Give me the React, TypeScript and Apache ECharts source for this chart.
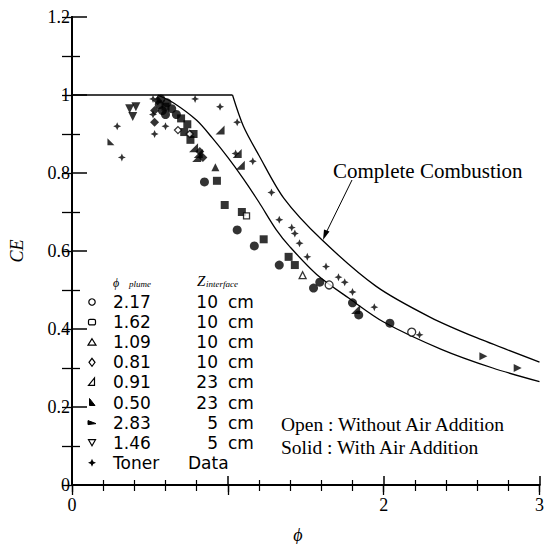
import React, { useEffect, useRef } from "react";
import * as echarts from "echarts";

// ---- data ----
const upperFlat = [[0, 1.0], [1.03, 1.0]];
const upperCurve = [[1.03, 1.0], [1.1, 0.92], [1.2, 0.845], [1.36, 0.735], [1.6, 0.63], [1.95, 0.51], [2.3, 0.43], [2.6, 0.377], [3.0, 0.315]];
const lowerCurve = [[0.55, 1.0], [0.65, 0.98], [0.8, 0.935], [0.9, 0.89], [1.0, 0.84], [1.1, 0.785], [1.2, 0.725], [1.31, 0.655], [1.4, 0.61], [1.57, 0.54], [1.78, 0.478], [2.0, 0.418], [2.37, 0.348], [2.7, 0.3], [3.0, 0.265]];

const tonerData = [[0.79, 0.99], [0.95, 0.97], [1.06, 0.93], [1.16, 0.83], [1.05, 0.85], [1.28, 0.75], [0.29, 0.92], [0.53, 0.9], [0.6, 0.92], [0.32, 0.84], [0.52, 0.95], [0.52, 0.99], [1.33, 0.68], [1.41, 0.66], [1.43, 0.645], [1.46, 0.62], [1.51, 0.585], [1.63, 0.56], [1.71, 0.533], [1.75, 0.52], [1.8, 0.495], [1.94, 0.456], [2.23, 0.385]];

const solidCircle217 = [[0.85, 0.777], [1.06, 0.654], [1.17, 0.613], [1.33, 0.564], [1.55, 0.505], [1.59, 0.52], [1.8, 0.467], [1.84, 0.436], [2.04, 0.415], [0.57, 0.99], [0.61, 0.98], [0.64, 0.965], [0.67, 0.95], [0.58, 0.96], [0.6, 0.95], [0.56, 0.975]];
const openCircle217 = [[1.65, 0.513], [2.18, 0.392]];
const solidSquare162 = [[0.93, 0.78], [0.98, 0.718], [1.09, 0.7], [1.23, 0.63], [1.39, 0.585], [1.43, 0.564], [0.6, 0.97], [0.7, 0.94], [0.74, 0.925], [0.78, 0.9], [0.72, 0.905], [0.76, 0.885]];
const openSquare162 = [[1.12, 0.69]];
const solidTri109 = [[0.92, 0.815]];
const openTri109 = [[1.48, 0.538]];
const solidDiamond081 = [[0.53, 0.96], [0.53, 0.93], [0.55, 0.985], [0.82, 0.855], [0.84, 0.84]];
const openDiamond081 = [[0.68, 0.91], [0.755, 0.9]];
const solidWedge091 = [[0.95, 0.91], [0.8, 0.84], [1.06, 0.85], [1.08, 0.82], [1.82, 0.45], [0.78, 0.865], [0.81, 0.85]];
const solidSmallTri050 = [[0.25, 0.88]];
const solidRight283 = [[2.64, 0.33], [2.86, 0.3]];
const solidDown146 = [[0.37, 0.965], [0.41, 0.97], [0.39, 0.945]];

const legendRows = [
  { phi: "2.17", z: "10" },
  { phi: "1.62", z: "10" },
  { phi: "1.09", z: "10" },
  { phi: "0.81", z: "10" },
  { phi: "0.91", z: "23" },
  { phi: "0.50", z: "23" },
  { phi: "2.83", z: "5" },
  { phi: "1.46", z: "5" },
];

const xTickLabels: Record<number, string> = { 0: "0", 1: "", 2: "2", 3: "3" };

// ---- symbols ----
const STAR = "path://M5,0 L6.5,3.5 L10,5 L6.5,6.5 L5,10 L3.5,6.5 L0,5 L3.5,3.5 Z";
const WEDGE = "path://M9,0 L9,10 L0,10 Z";
const SMALLTRI = "path://M0,0 L8,10 L0,10 Z";
const RIGHTTRI = "path://M0,0 L10,5 L0,10 Z";
const DOWNTRI = "path://M0,0 L10,0 L5,9 Z";

const serif = '"Liberation Serif", "DejaVu Serif", serif';
const sans = '"DejaVu Sans", sans-serif';

function solid(name: string, data: number[][], symbol: string, size: number, z = 3) {
  return { type: "scatter", name, data, symbol, symbolSize: size, itemStyle: { color: "#000" }, z };
}
function open(name: string, data: number[][], symbol: string, size: number) {
  return { type: "scatter", name, data, symbol, symbolSize: size, itemStyle: { color: "#fff", borderColor: "#000", borderWidth: 1.3 }, z: 4 };
}

function buildLegendGraphics() {
  const g: any[] = [];
  const y0 = 302;
  const dy = 20.1;
  const sx = 92;
  const stroke = { fill: "#fff", stroke: "#000", lineWidth: 1.2 };
  const symbols = [
    (y: number) => ({ type: "circle", shape: { cx: sx, cy: y, r: 3.2 }, style: stroke }),
    (y: number) => ({ type: "rect", shape: { x: sx - 3.5, y: y - 2.8, width: 7, height: 5.6, r: 1.5 }, style: stroke }),
    (y: number) => ({ type: "polygon", shape: { points: [[sx, y - 3.5], [sx + 4, y + 3], [sx - 4, y + 3]] }, style: stroke }),
    (y: number) => ({ type: "polygon", shape: { points: [[sx, y - 4], [sx + 3, y], [sx, y + 4], [sx - 3, y]] }, style: stroke }),
    (y: number) => ({ type: "polygon", shape: { points: [[sx + 2.5, y - 4.5], [sx + 2.5, y + 3], [sx - 3.5, y + 3]] }, style: stroke }),
    (y: number) => ({ type: "polygon", shape: { points: [[sx - 2.5, y - 4], [sx + 3, y + 3], [sx - 2.5, y + 3]] }, style: { fill: "#000", stroke: "#000", lineWidth: 1 } }),
    (y: number) => ({ type: "polygon", shape: { points: [[sx - 4, y - 2], [sx + 4, y + 1], [sx - 4, y + 2]] }, style: { fill: "#000", stroke: "#000", lineWidth: 1 } }),
    (y: number) => ({ type: "polygon", shape: { points: [[sx - 3.5, y - 3], [sx + 3.5, y - 3], [sx, y + 3]] }, style: stroke }),
  ];
  legendRows.forEach((row, i) => {
    const y = y0 + i * dy;
    g.push(symbols[i](y));
    g.push({ type: "text", x: 113, y, style: { text: row.phi, font: `17px ${sans}`, fill: "#000", verticalAlign: "middle", align: "left" } });
    g.push({ type: "text", x: 218, y, style: { text: row.z, font: `17px ${sans}`, fill: "#000", verticalAlign: "middle", align: "right" } });
    g.push({ type: "text", x: 228, y, style: { text: "cm", font: `17px ${sans}`, fill: "#000", verticalAlign: "middle", align: "left" } });
  });
  const ty = y0 + 8 * dy;
  g.push({ type: "polygon", shape: { points: [[sx, ty - 4], [sx + 1.2, ty - 1.2], [sx + 4, ty], [sx + 1.2, ty + 1.2], [sx, ty + 4], [sx - 1.2, ty + 1.2], [sx - 4, ty], [sx - 1.2, ty - 1.2]] }, style: { fill: "#000" } });
  g.push({ type: "text", x: 113, y: ty, style: { text: "Toner", font: `17px ${sans}`, fill: "#000", verticalAlign: "middle" } });
  g.push({ type: "text", x: 188, y: ty, style: { text: "Data", font: `17px ${sans}`, fill: "#000", verticalAlign: "middle" } });
  // header
  g.push({ type: "text", x: 113, y: 283, style: { text: "ϕ", font: `italic 12px ${serif}`, fill: "#000", verticalAlign: "middle" } });
  g.push({ type: "text", x: 129, y: 284, style: { text: "plume", font: `italic 9px ${serif}`, fill: "#000", verticalAlign: "middle" } });
  g.push({ type: "text", x: 197, y: 281, style: { text: "Z", font: `italic 15px ${serif}`, fill: "#000", verticalAlign: "middle" } });
  g.push({ type: "text", x: 206, y: 284, style: { text: "interface", font: `italic 9px ${serif}`, fill: "#000", verticalAlign: "middle" } });
  return g;
}

export default function App() {
  const ref = useRef<HTMLDivElement>(null);
  useEffect(() => {
    const chart = echarts.init(ref.current!, null, { renderer: "svg" });
    const axisLine = { show: true, lineStyle: { color: "#000", width: 2 } };
    const option: any = {
      animation: false,
      backgroundColor: "#fff",
      grid: { left: 72, right: 2, top: 17, bottom: 59 },
      xAxis: [
        {
          type: "value", min: 0, max: 3, interval: 1, position: "bottom",
          axisLine, splitLine: { show: false },
          axisTick: { show: true, inside: true, length: 9, lineStyle: { color: "#000", width: 1.5 } },
          minorTick: { show: true, splitNumber: 5, length: 5, lineStyle: { color: "#000", width: 1.2 } },
          axisLabel: { formatter: (v: number) => xTickLabels[v] ?? String(v), fontFamily: serif, fontSize: 18, color: "#000", margin: 11 },
        },
        {
          type: "value", min: 0, max: 3, interval: 1, position: "top",
          axisLine, splitLine: { show: false }, axisLabel: { show: false },
          axisTick: { show: true, inside: true, length: 10, lineStyle: { color: "#000", width: 1.3 } },
          minorTick: { show: true, splitNumber: 5, length: 6, lineStyle: { color: "#000", width: 1.2 } },
        },
        {
          type: "value", min: 0, max: 3, interval: 1, position: "bottom",
          axisLine: { show: false }, splitLine: { show: false }, axisLabel: { show: false },
          axisTick: { show: true, inside: false, length: 7, lineStyle: { color: "#000", width: 1.3 } },
        },
      ],
      yAxis: [
        {
          type: "value", min: 0, max: 1.2, interval: 0.2, position: "left",
          name: "CE", nameLocation: "middle", nameGap: 46,
          nameTextStyle: { fontFamily: serif, fontStyle: "italic", fontSize: 18, color: "#000" },
          axisLine, splitLine: { show: false },
          axisTick: { show: true, inside: true, length: 15, lineStyle: { color: "#000", width: 1.5 } },
          minorTick: { show: true, splitNumber: 2, length: 8, lineStyle: { color: "#000", width: 1.3 } },
          axisLabel: { fontFamily: serif, fontSize: 18, color: "#000", margin: 2 },
        },
        {
          type: "value", min: 0, max: 1.2, interval: 0.2, position: "right",
          axisLine, splitLine: { show: false }, axisLabel: { show: false },
          axisTick: { show: true, inside: true, length: 10, lineStyle: { color: "#000", width: 1.3 } },
          minorTick: { show: true, splitNumber: 2, length: 10, lineStyle: { color: "#000", width: 1.3 } },
        },
      ],
      series: [
        { type: "line", data: upperFlat, symbol: "none", lineStyle: { color: "#000", width: 1.4 }, z: 2 },
        { type: "line", data: upperCurve, symbol: "none", smooth: 0.3, lineStyle: { color: "#000", width: 1.3 }, z: 2 },
        { type: "line", data: lowerCurve, symbol: "none", smooth: 0.3, lineStyle: { color: "#000", width: 1.3 }, z: 2 },
        solid("Toner Data", tonerData, STAR, 8),
        solid("2.17 solid", solidCircle217, "circle", 9),
        solid("1.62 solid", solidSquare162, "rect", 8),
        solid("1.09 solid", solidTri109, "triangle", 8),
        solid("0.81 solid", solidDiamond081, "diamond", 9),
        solid("0.91 solid", solidWedge091, WEDGE, 9),
        solid("0.50 solid", solidSmallTri050, SMALLTRI, 7),
        solid("2.83 solid", solidRight283, RIGHTTRI, 8),
        solid("1.46 solid", solidDown146, DOWNTRI, 9),
        open("2.17 open", openCircle217, "circle", 8),
        open("1.62 open", openSquare162, "rect", 6),
        open("1.09 open", openTri109, "triangle", 7),
        open("0.81 open", openDiamond081, "diamond", 7),
      ],
      graphic: [
        ...buildLegendGraphics(),
        { type: "text", x: 333, y: 171, style: { text: "Complete Combustion", font: `21px ${serif}`, fill: "#000", verticalAlign: "middle" } },
        { type: "line", shape: { x1: 352, y1: 180, x2: 325, y2: 235 }, style: { stroke: "#000", lineWidth: 1 } },
        { type: "polygon", shape: { points: [[323, 240], [329.5, 231.5], [324, 229.5]] }, style: { fill: "#000" } },
        { type: "text", x: 281, y: 424, style: { text: "Open : Without Air Addition", font: `19.5px ${serif}`, fill: "#000", verticalAlign: "middle" } },
        { type: "text", x: 281, y: 447, style: { text: "Solid : With Air Addition", font: `19.5px ${serif}`, fill: "#000", verticalAlign: "middle" } },
        { type: "text", x: 298, y: 535, style: { text: "ϕ", font: `italic 18px ${serif}`, fill: "#000", verticalAlign: "middle", align: "center" } },
      ],
    };
    chart.setOption(option);
    return () => chart.dispose();
  }, []);
  return <div ref={ref} style={{ position: "fixed", left: 0, top: 0, width: 547, height: 544, background: "#fff" }} />;
}
